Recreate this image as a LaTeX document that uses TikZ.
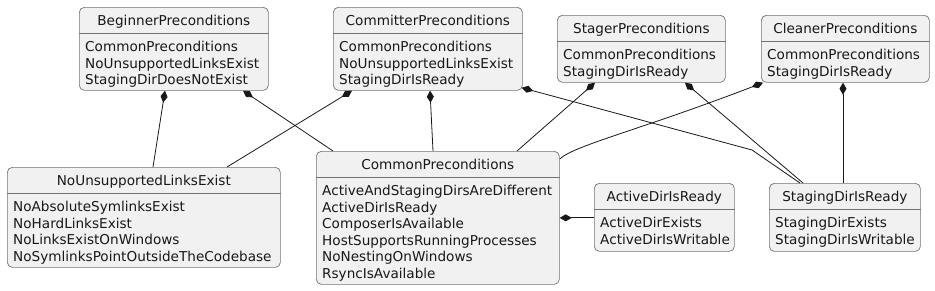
\documentclass[tikz,border=0pt]{standalone}
\usepackage{fontspec}
\setmainfont{DejaVu Sans}
\usetikzlibrary{arrows.meta}
\definecolor{boxfill}{HTML}{F1F1F1}
\definecolor{ink}{HTML}{181818}
\newcommand\mkclass[7]{%
  \node[cls, minimum width=#4pt, minimum height=#5pt] (#1) at (#2,#3) {};
  \draw[sepl] ([yshift=-26.5pt]#1.north west) -- ([yshift=-26.5pt]#1.north east);
  \node[ttl, anchor=base] (#1-t) at ([yshift=-18.5pt]#1.north) {#6};
  \node[att] (#1-a) at ([xshift=6pt,yshift=-34pt]#1.north west) {#7};
}
\begin{document}
\begin{tikzpicture}[x=1pt,y=-1pt,
  cls/.style={draw=black!55, line width=0.7pt, fill=boxfill, rounded corners=5pt, anchor=north west, inner sep=0pt},
  ttl/.style={font=\fontsize{13.6}{16.5}\selectfont, inner sep=0pt, text=ink},
  att/.style={font=\fontsize{13.6}{16.5}\selectfont, inner sep=0pt, align=left, anchor=north west, text=ink},
  sepl/.style={draw=black!55, line width=0.7pt},
  comp/.style={{Diamond[length=12pt,width=7pt]}-, line width=0.8pt, draw=ink}
]
\useasboundingbox (0,0) rectangle (935,290);

\mkclass{beg}{79}{7}{189}{83}{BeginnerPreconditions}{CommonPreconditions\\NoUnsupportedLinksExist\\StagingDirDoesNotExist}
\mkclass{com}{333}{7}{189}{83}{CommitterPreconditions}{CommonPreconditions\\NoUnsupportedLinksExist\\StagingDirIsReady}
\mkclass{stg}{557}{15}{168}{67}{StagerPreconditions}{CommonPreconditions\\StagingDirIsReady}
\mkclass{cln}{761}{15}{168}{67}{CleanerPreconditions}{CommonPreconditions\\StagingDirIsReady}
\mkclass{nul}{7}{167}{273}{100}{NoUnsupportedLinksExist}{NoAbsoluteSymlinksExist\\NoHardLinksExist\\NoLinksExistOnWindows\\NoSymlinksPointOutsideTheCodebase}
\mkclass{cmn}{316}{151}{243}{133}{CommonPreconditions}{ActiveAndStagingDirsAreDifferent\\ActiveDirIsReady\\ComposerIsAvailable\\HostSupportsRunningProcesses\\NoNestingOnWindows\\RsyncIsAvailable}
\mkclass{act}{594}{183}{140}{68}{ActiveDirIsReady}{ActiveDirExists\\ActiveDirIsWritable}
\mkclass{sdr}{769}{183}{151}{68}{StagingDirIsReady}{StagingDirExists\\StagingDirIsWritable}

\coordinate (bend1) at (752,150);

\draw[comp] ([xshift=86pt]beg.south west) -- ([xshift=146pt]nul.north west);
\draw[comp] ([xshift=164pt]beg.south west) -- ([xshift=17pt]cmn.north west);
\draw[comp] ([xshift=19pt]com.south west) -- ([xshift=220pt]nul.north west);
\draw[comp] ([xshift=97pt]com.south west) -- ([xshift=117pt]cmn.north west);
\draw[comp] ([xshift=-1pt,yshift=3pt]com.south east) -- (bend1) -- ([xshift=31pt]sdr.north west);
\draw[comp] ([xshift=38pt]stg.south west) -- ([xshift=201pt]cmn.north west);
\draw[comp] ([xshift=128pt]stg.south west) -- ([xshift=34pt]sdr.north west);
\draw[comp] ([xshift=2pt]cln.south west) .. controls (640,130) and (575,145) .. ([yshift=-8pt]cmn.north east);
\draw[comp] ([xshift=82pt]cln.south west) -- ([xshift=74pt]sdr.north west);
\draw[comp] (cmn.east) -- (cmn.east -| act.west);
\end{tikzpicture}
\end{document}
